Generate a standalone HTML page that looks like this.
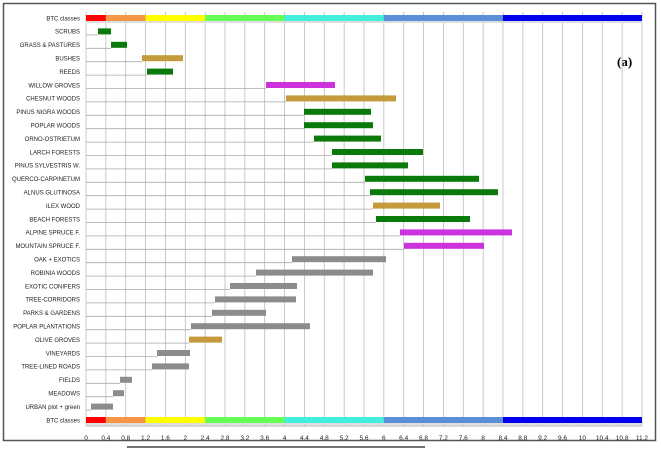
<!DOCTYPE html>
<html><head><meta charset="utf-8"><style>
html,body{margin:0;padding:0;background:#fff}
svg{display:block;font-family:"Liberation Sans",sans-serif}
</style></head><body>
<svg id="c" width="661" height="449" xmlns="http://www.w3.org/2000/svg">
<rect x="3.5" y="3.5" width="652" height="437" fill="#fff" stroke="#555" stroke-width="1.5"/>
<line x1="127" y1="447" x2="425" y2="447" stroke="#444" stroke-width="1.5"/>
<text x="617" y="66" font-family="Liberation Serif,serif" font-weight="bold" font-size="13">(a)</text>
</svg>
<script>
const s=document.getElementById('c'),NS='http://www.w3.org/2000/svg';
function el(t,a,txt){const e=document.createElementNS(NS,t);for(const k in a)e.setAttribute(k,a[k]);if(txt!=null)e.textContent=txt;s.appendChild(e);return e;}
const X=v=>86+v*49.64, Y=i=>18+i*13.4;
// vertical grid
for(let k=0;k<=28;k++){const v=k*0.4,x=X(v);el('line',{x1:x,y1:12,x2:x,y2:426,stroke:'#bbb','stroke-width':0.8});
 let lab=(Math.abs(v-Math.round(v))<1e-6)?String(Math.round(v)):v.toFixed(1).replace('.',',');
 el('text',{x:x,y:440,'font-size':6.5,'text-anchor':'middle',fill:'#222'},lab);}
const rows=[
['SCRUBS',98,111,'g'],['GRASS & PASTURES',111,127,'g'],['BUSHES',142,183,'o'],['REEDS',147,173,'g'],
['WILLOW  GROVES',266,335,'m'],['CHESNUT WOODS',286,396,'o'],['PINUS NIGRA  WOODS',304,371,'g'],['POPLAR WOODS',304,373,'g'],
['ORNO-OSTRIETUM',314,381,'g'],['LARCH FORESTS',332,423,'g'],['PINUS SYLVESTRIS W.',332,408,'g'],['QUERCO-CARPINETUM',365,479,'g'],
['ALNUS GLUTINOSA',370,498,'g'],['ILEX WOOD',373,440,'o'],['BEACH FORESTS',376,470,'g'],['ALPINE SPRUCE F.',400,512,'m'],
['MOUNTAIN SPRUCE F.',404,484,'m'],['OAK + EXOTICS',292,386,'k'],['ROBINIA WOODS',256,373,'k'],['EXOTIC CONIFERS',230,297,'k'],
['TREE-CORRIDORS',215,296,'k'],['PARKS & GARDENS',212,266,'k'],['POPLAR PLANTATIONS',191,310,'k'],['OLIVE GROVES',189,222,'o'],
['VINEYARDS',157,190,'k'],['TREE-LINED ROADS',152,189,'k'],['FIELDS',120,132,'k'],['MEADOWS',113,124,'k'],['URBAN plot + green',91,113,'k']];
const col={g:'#0a7a0a',o:'#c49a3c',m:'#cc33dd',k:'#8c8c8c'};
const btc=[[0,.4,'#ff0000'],[.4,1.2,'#f79646'],[1.2,2.4,'#ffff00'],[2.4,4,'#66ff55'],[4,6,'#44eedd'],[6,8.4,'#5b8fd6'],[8.4,11.2,'#0000ee']];
function btcRow(i){const y=Y(i);el('text',{x:80,y:y+2.3,'font-size':6,'text-anchor':'end',fill:'#222'},'BTC classes');
 el('rect',{x:86,y:y+3,width:556,height:2,fill:'#ddd'});
 btc.forEach(b=>el('rect',{x:X(b[0]),y:y-3,width:X(b[1])-X(b[0]),height:6,fill:b[2]}));}
btcRow(0);
rows.forEach((r,j)=>{const i=j+1,y=Y(i);
 el('text',{x:80,y:y+2.3,'font-size':6,'text-anchor':'end',fill:'#222'},r[0]);
 el('line',{x1:86,y1:y+3.5,x2:r[1],y2:y+3.5,stroke:'#aaa','stroke-width':0.8});
 el('rect',{x:r[1],y:y-3,width:r[2]-r[1],height:6,fill:col[r[3]]});});
btcRow(30);
el('line',{x1:86,y1:426,x2:642,y2:426,stroke:'#999','stroke-width':0.8});
</script>
</body></html>
